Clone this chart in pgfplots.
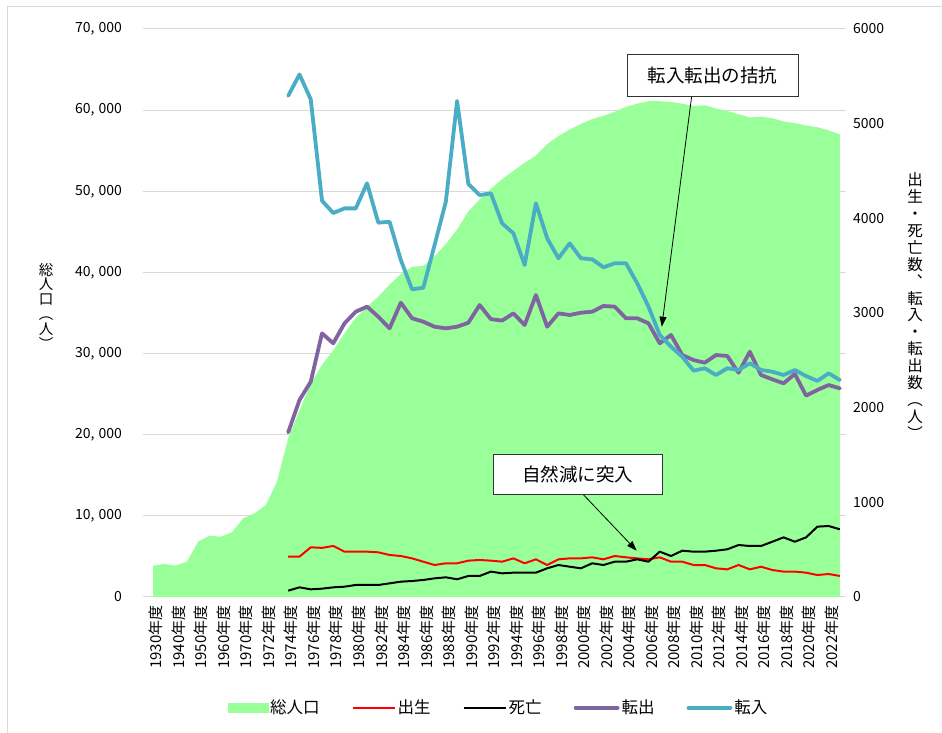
\documentclass[border=0pt]{standalone}
\usepackage{fontspec}
\setmainfont{Noto Sans CJK JP}
\usepackage{pgfplots}
\pgfplotsset{compat=1.18}
\usepackage{pgfplotstable}
\usetikzlibrary{arrows.meta}
\definecolor{popgreen}{RGB}{153,255,153}
\definecolor{outpurple}{RGB}{128,100,162}
\definecolor{inblue}{RGB}{75,172,198}
\definecolor{gridgray}{RGB}{217,217,217}

\pgfplotstableread{
x pop
0 3860
1 4070
2 3860
3 4350
4 6820
5 7560
6 7430
7 7970
8 9700
9 10300
10 11300
11 14200
12 19600
13 23000
14 26300
15 28600
16 30400
17 32500
18 34400
19 35800
20 37000
21 38500
22 39800
23 40700
24 40800
25 42000
26 43500
27 45300
28 47500
29 49000
30 50300
31 51500
32 52500
33 53500
34 54400
35 55800
36 56800
37 57600
38 58300
39 58900
40 59300
41 59800
42 60400
43 60800
44 61100
45 61100
46 61000
47 60800
48 60500
49 60600
50 60200
51 59900
52 59500
53 59100
54 59200
55 59000
56 58600
57 58400
58 58100
59 57900
60 57500
61 57000
}\poptable

\pgfplotstableread{
x birth death out inn
12 426 67 1740 5295
13 426 102 2081 5520
14 525 81 2274 5257
15 519 88 2785 4186
16 539 102 2680 4056
17 479 109 2891 4105
18 479 127 3014 4105
19 479 127 3067 4370
20 472 127 2961 3954
21 444 144 2838 3964
22 433 162 3109 3560
23 408 169 2944 3250
24 373 180 2908 3267
25 338 197 2855 3718
26 356 208 2838 4176
27 356 187 2855 5240
28 384 222 2897 4363
29 391 222 3084 4246
30 384 268 2935 4264
31 373 250 2920 3947
32 408 257 2996 3842
33 356 257 2873 3507
34 398 257 3190 4159
35 338 303 2855 3789
36 398 338 2996 3578
37 408 320 2979 3736
38 408 303 3003 3578
39 419 356 3014 3567
40 398 338 3074 3483
41 433 373 3067 3525
42 419 373 2944 3525
43 408 398 2944 3314
44 398 373 2891 3067
45 419 479 2680 2768
46 373 433 2768 2644
47 373 489 2556 2538
48 338 479 2503 2391
49 338 479 2475 2416
50 303 489 2556 2345
51 292 504 2546 2416
52 338 549 2369 2398
53 292 539 2591 2469
54 320 539 2345 2398
55 285 584 2299 2380
56 268 630 2257 2345
57 268 584 2356 2398
58 257 630 2127 2334
59 232 743 2187 2282
60 243 750 2239 2363
61 222 715 2204 2292
}\flowtable

\begin{document}
\begin{tikzpicture}[x=1pt,y=1pt]
\path[use as bounding box] (0,0) rectangle (942,733);
\draw[gridgray, line width=1pt] (7,0) -- (7,726) -- (942,726);

\begin{axis}[
  at={(147.5pt,136pt)}, anchor=south west,
  width=698pt, height=568pt, scale only axis,
  xmin=-0.5, xmax=61.5, ymin=0, ymax=70000,
  axis x line*=bottom, axis y line*=left,
  x axis line style={gridgray, line width=1pt, -},
  y axis line style={draw=none},
  ytick={0,10000,...,70000},
  ymajorgrids, major grid style={gridgray, line width=1pt},
  y tick style={gridgray, line width=1pt}, tick align=outside, major tick length=5pt,
  xtick={0,2,...,60},
  x tick style={draw=none},
  xticklabels={1930年度,1940年度,1950年度,1960年度,1970年度,1972年度,1974年度,1976年度,1978年度,1980年度,1982年度,1984年度,1986年度,1988年度,1990年度,1992年度,1994年度,1996年度,1998年度,2000年度,2002年度,2004年度,2006年度,2008年度,2010年度,2012年度,2014年度,2016年度,2018年度,2020年度,2022年度},
  xticklabel style={rotate=90, anchor=east, yshift=-3pt, font=\fontsize{15}{15}\selectfont},
  yticklabel style={xshift=-17pt, font=\fontsize{14}{14}\selectfont},
  scaled y ticks=false,
  /pgf/number format/1000 sep={,\hspace{0.3em}},
  /pgf/number format/assume math mode=true,
]
\addplot[fill=popgreen, draw=none] table[x=x,y=pop]{\poptable} \closedcycle;
\end{axis}

\begin{axis}[
  at={(147.5pt,136pt)}, anchor=south west,
  width=698pt, height=568pt, scale only axis,
  xmin=-0.5, xmax=61.5, ymin=0, ymax=6000,
  hide x axis,
  axis y line*=right, y axis line style={draw=none},
  ytick={0,1000,...,6000}, major tick length=0pt,
  yticklabel style={xshift=4pt, font=\fontsize{14}{14}\selectfont},
  /pgf/number format/1000 sep={},
  /pgf/number format/assume math mode=true,
  legend style={at={(0.503,-0.195)}, anchor=center, draw=none, fill=none,
    legend columns=5, font=\fontsize{16.5}{16.5}\selectfont,
    /tikz/every even column/.append style={column sep=30pt}},
  legend image code/.code={\draw[#1] (0pt,0pt) -- (42pt,0pt);},
]
\addlegendimage{legend image code/.code={\fill[popgreen] (0pt,-4.5pt) rectangle (40pt,4.5pt);}}
\addlegendentry{総人口}
\addplot[red, line width=2pt, line join=round] table[x=x,y=birth]{\flowtable};
\addlegendentry{出生}
\addplot[black, line width=2pt, line join=round] table[x=x,y=death]{\flowtable};
\addlegendentry{死亡}
\addplot[outpurple, line width=3.8pt, line join=round, line cap=round] table[x=x,y=out]{\flowtable};
\addlegendentry{転出}
\addplot[inblue, line width=3.8pt, line join=round, line cap=round] table[x=x,y=inn]{\flowtable};
\addlegendentry{転入}

\draw[-{Triangle[length=10pt,width=7pt]}, line width=0.8pt] (axis cs:47.84,5292) -- (axis cs:45.18,2855);
\node[draw=black!80, fill=white, line width=1pt, minimum width=171pt, minimum height=42pt, inner sep=0pt, font=\fontsize{18.5}{18.5}\selectfont] at (axis cs:49.7,5514) {転入転出の拮抗};
\draw[-{Triangle[length=10pt,width=7pt]}, line width=0.8pt] (axis cs:37.68,1148) -- (axis cs:42.95,489);
\node[draw=black!80, fill=white, line width=1pt, minimum width=169pt, minimum height=40pt, inner sep=0pt, font=\fontsize{18.5}{18.5}\selectfont] at (axis cs:37.7,1299) {自然減に突入};
\end{axis}

\node[align=center, font=\fontsize{14.5}{14.8}\selectfont] at (46,427) {総\\人\\口\\︵\\人\\︶};
\node[align=center, font=\fontsize{15.5}{16.9}\selectfont] at (915,427) {出\\生\\・\\死\\亡\\数\\︑\\転\\入\\・\\転\\出\\数\\︵\\人\\︶};
\end{tikzpicture}
\end{document}
